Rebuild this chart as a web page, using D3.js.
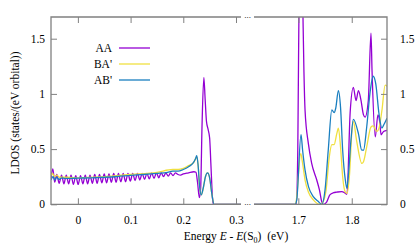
<!DOCTYPE html>
<html>
<head>
<meta charset="utf-8">
<script src="https://cdn.jsdelivr.net/npm/d3@7"></script>
<style>
  body { margin: 0; background: #fff; }
  svg text { font-family: "Liberation Serif", "DejaVu Serif", serif; font-size: 11.5px; fill: #000; }
</style>
</head>
<body>
<svg id="chart" width="415" height="249"></svg>
<script>
// energy (eV), LDOS values
const seriesNames = ["AA", "BA'", "AB'"];
const seriesColors = ["#9400d3", "#f0e040", "#1a7fc0"];

const aaLow = [[-0.051,0.23],[-0.0475,0.32],[-0.044,0.20],[-0.040,0.27],[-0.0355,0.19],[-0.031,0.265],
  [-0.0265,0.185],[-0.022,0.265],[-0.0175,0.185],[-0.013,0.265],[-0.0085,0.18],[-0.004,0.26],
  [0.0005,0.18],[0.005,0.26],[0.0095,0.185],[0.014,0.265],[0.0185,0.185],[0.023,0.265],
  [0.0275,0.19],[0.032,0.27],[0.0365,0.19],[0.041,0.27],[0.0455,0.195],[0.050,0.275],
  [0.0545,0.195],[0.059,0.275],[0.0635,0.20],[0.068,0.28],[0.0725,0.20],[0.077,0.28],
  [0.0815,0.205],[0.086,0.28],[0.0905,0.205],[0.095,0.28],[0.0995,0.21],[0.104,0.28],
  [0.1085,0.215],[0.113,0.28],[0.1175,0.22],[0.122,0.28],[0.1265,0.225],[0.131,0.28],
  [0.1355,0.23],[0.140,0.285],[0.1445,0.235],[0.149,0.285],[0.1535,0.24],[0.158,0.285],
  [0.1625,0.25],[0.167,0.285],[0.1715,0.255],[0.176,0.285],[0.1805,0.26],[0.185,0.285],
  [0.190,0.27],[0.195,0.265],[0.200,0.275],[0.210,0.285],[0.220,0.295],[0.224,0.29],
  [0.227,0.20],[0.2305,0.06],[0.233,0.15],[0.2355,0.70],[0.239,1.15],[0.2415,0.95],
  [0.244,0.75],[0.247,0.68],[0.250,0.60],[0.2525,0.35],[0.2555,0.05],[0.257,0],[0.3095,0]];

const baLow = [[-0.051,0.26],[-0.048,0.28],[-0.045,0.25],[-0.040,0.265],[-0.035,0.245],[-0.020,0.245],
  [0.000,0.24],[0.050,0.25],[0.100,0.27],[0.150,0.29],[0.180,0.315],[0.190,0.315],[0.200,0.325],
  [0.210,0.35],[0.220,0.38],[0.2255,0.43],[0.228,0.36],[0.231,0.16],[0.234,0.085],[0.238,0.15],
  [0.242,0.25],[0.246,0.285],[0.250,0.24],[0.254,0.10],[0.2585,0],[0.3095,0]];

const abLow = [[-0.051,0.22],[-0.047,0.25],[-0.044,0.22],[-0.040,0.245],[-0.036,0.225],[-0.030,0.24],
  [-0.025,0.235],[-0.015,0.235],[0.000,0.237],[0.025,0.24],[0.050,0.245],[0.075,0.252],[0.100,0.262],
  [0.125,0.27],[0.150,0.28],[0.170,0.29],[0.180,0.30],[0.190,0.30],[0.200,0.315],[0.210,0.34],
  [0.218,0.37],[0.223,0.41],[0.2255,0.44],[0.228,0.36],[0.231,0.16],[0.234,0.085],[0.238,0.15],
  [0.242,0.25],[0.246,0.285],[0.250,0.24],[0.254,0.10],[0.2585,0],[0.3095,0]];

const aaHigh = [[1.617,0],[1.6965,0],[1.699,0.5],[1.702,2.2],[1.705,2.6],[1.708,1.9],[1.7105,1.2],
  [1.7126,0.85],[1.7188,0.55],[1.725,0.37],[1.7345,0.22],[1.7395,0.13],[1.744,0.02],[1.747,0],
  [1.753,0.02],[1.759,0.085],[1.766,0.105],[1.772,0.11],[1.781,0.115],[1.788,0.10],[1.791,0.09],
  [1.797,0.83],[1.803,1.06],[1.808,0.94],[1.8125,1.03],[1.817,0.95],[1.822,0.81],[1.825,0.79],
  [1.831,0.94],[1.836,1.55],[1.838,1.21],[1.844,0.61],[1.849,0.81],[1.852,0.76],[1.855,0.63],
  [1.8595,0.66],[1.866,0.67]];

const baHigh = [[1.617,0],[1.694,0],[1.6957,0.02],[1.7045,0.46],[1.708,0.37],[1.7126,0.22],[1.719,0.11],
  [1.728,0.04],[1.7407,0],[1.746,0.02],[1.752,0.13],[1.758,0.43],[1.7627,0.54],[1.767,0.54],
  [1.772,0.64],[1.775,0.69],[1.779,0.52],[1.783,0.25],[1.788,0.11],[1.791,0.10],[1.796,0.28],
  [1.800,0.64],[1.803,0.75],[1.809,0.58],[1.819,0.37],[1.822,0.385],[1.828,0.52],[1.836,0.70],
  [1.840,0.71],[1.847,0.66],[1.851,0.69],[1.8565,0.85],[1.8625,1.08],[1.866,1.07]];

const abHigh = [[1.617,0],[1.694,0],[1.697,0.04],[1.705,0.63],[1.708,0.49],[1.7126,0.31],[1.719,0.16],
  [1.728,0.07],[1.7375,0.025],[1.744,0],[1.750,0.13],[1.756,0.49],[1.7627,0.855],[1.767,0.83],
  [1.770,0.87],[1.775,1.03],[1.779,0.88],[1.783,0.49],[1.788,0.22],[1.791,0.145],[1.794,0.28],
  [1.7985,0.58],[1.803,0.77],[1.8125,0.64],[1.8188,0.49],[1.822,0.49],[1.828,0.70],[1.834,1.0],
  [1.840,1.16],[1.845,1.09],[1.851,0.82],[1.8565,0.69],[1.860,0.72],[1.866,0.78]];

const yTicks = [0, 0.5, 1, 1.5];
const xTicksLow = [0, 0.1, 0.2, 0.3];
const xTicksHigh = [1.7, 1.8];

const svg = d3.select("#chart");
const frameColor = "#808080";
const yTop = 17, yBottom = 204.3;

const y = d3.scaleLinear().domain([0, 1.5]).range([yBottom, 38.7]);
const xLow = d3.scaleLinear().domain([-0.051, 0.3095]).range([51, 241]);
const xHigh = d3.scaleLinear().domain([1.617, 1.866]).range([254, 387]);

const panels = [
  { x: xLow, ticks: xTicksLow, data: [aaLow, baLow, abLow], id: "clipLow" },
  { x: xHigh, ticks: xTicksHigh, data: [aaHigh, baHigh, abHigh], id: "clipHigh" }
];

const defs = svg.append("defs");

panels.forEach(p => {
  const [x0, x1] = p.x.range();
  defs.append("clipPath").attr("id", p.id)
    .append("rect").attr("x", x0).attr("y", yTop).attr("width", x1 - x0).attr("height", yBottom - yTop);

  const line = d3.line()
    .x(d => p.x(d[0]))
    .y(d => y(d[1]))
    .curve(d3.curveMonotoneX);

  svg.append("g").attr("clip-path", `url(#${p.id})`)
    .selectAll("path")
    .data(p.data)
    .join("path")
    .attr("d", line)
    .attr("fill", "none")
    .attr("stroke", (d, i) => seriesColors[i])
    .attr("stroke-width", 1.3)
    .attr("stroke-linejoin", "round");

  // x ticks, inward on bottom and top
  const gb = svg.append("g").attr("transform", `translate(0,${yBottom})`)
    .call(d3.axisBottom(p.x).tickValues(p.ticks).tickSize(-6).tickPadding(12)
      .tickFormat(d3.format("")));
  const gt = svg.append("g").attr("transform", `translate(0,${yTop})`)
    .call(d3.axisTop(p.x).tickValues(p.ticks).tickSize(-6).tickFormat(""));
  [gb, gt].forEach(g => {
    g.select(".domain").remove();
    g.selectAll("line").attr("stroke", frameColor);
    g.selectAll("text").attr("font-family", null).attr("font-size", null);
  });
});

// frames
const [l0, l1] = xLow.range();
const [r0, r1] = xHigh.range();
svg.append("path")
  .attr("d", `M${l1},${yTop}H${l0}V${yBottom}H${l1}M${r0},${yTop}H${r1}V${yBottom}H${r0}`)
  .attr("fill", "none").attr("stroke", frameColor).attr("stroke-width", 1.3);

// break markers
[yTop, yBottom].forEach(yy => {
  svg.append("text").attr("x", (l1 + r0) / 2).attr("y", yy + 1)
    .attr("text-anchor", "middle").style("font-size", "9px").text("...");
});

// y axes
const yl = svg.append("g").attr("transform", `translate(${l0},0)`)
  .call(d3.axisLeft(y).tickValues(yTicks).tickSize(-6).tickPadding(6).tickFormat(d3.format("")));
const yr = svg.append("g").attr("transform", `translate(${r1},0)`)
  .call(d3.axisRight(y).tickValues(yTicks).tickSize(-6).tickPadding(13).tickFormat(d3.format("")));
[yl, yr].forEach(g => {
  g.select(".domain").remove();
  g.selectAll("line").attr("stroke", frameColor);
  g.selectAll("text").attr("font-family", null).attr("font-size", null);
});

// legend
const legend = svg.append("g").selectAll("g")
  .data(seriesNames)
  .join("g")
  .attr("transform", (d, i) => `translate(112,${48 + i * 16})`);
legend.append("text").attr("x", 0).attr("y", 4).attr("text-anchor", "end").text(d => d);
legend.append("line").attr("x1", 7).attr("x2", 38)
  .attr("stroke", (d, i) => seriesColors[i]).attr("stroke-width", 1.3);

// axis titles
svg.append("text")
  .attr("transform", "translate(19,113) rotate(-90)")
  .attr("text-anchor", "middle")
  .text("LDOS (states/(eV orbital))");

const xt = svg.append("text").attr("x", 236).attr("y", 240)
  .attr("text-anchor", "middle").style("white-space", "pre");
xt.append("tspan").text("Energy ");
xt.append("tspan").style("font-style", "italic").text("E");
xt.append("tspan").text(" - ");
xt.append("tspan").style("font-style", "italic").text("E");
xt.append("tspan").text("(S");
xt.append("tspan").attr("dy", 3).style("font-size", "8px").text("0");
xt.append("tspan").attr("dy", -3).text(")  (eV)");
</script>
</body>
</html>
